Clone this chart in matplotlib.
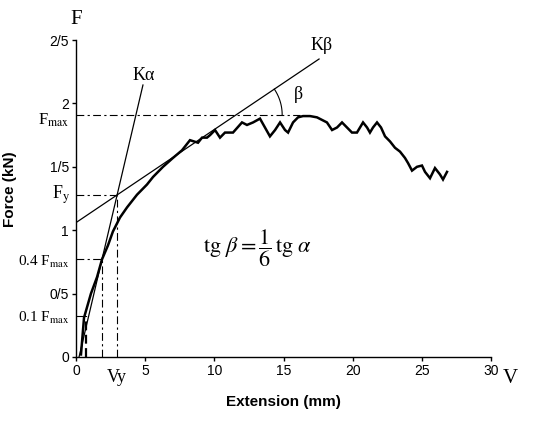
import numpy as np
import matplotlib
matplotlib.use("Agg")
import matplotlib.pyplot as plt

plt.rcParams['font.family'] = ['Liberation Sans', 'DejaVu Sans']
plt.rcParams['mathtext.fontset'] = 'stix'

# force-extension record
extension = [0.36, 0.58, 1.08, 1.52, 1.88, 2.31, 2.67, 3.18, 3.69, 4.41,
             5.13, 5.57, 6.29, 7.01, 7.66, 8.24, 8.82, 9.11, 9.47, 9.69,
             10.05, 10.41, 10.77, 11.35, 12.00, 12.36, 12.80, 13.30, 13.66, 14.02,
             14.39, 14.75, 15.11, 15.33, 15.69, 16.05, 16.41, 16.92, 17.42, 17.78,
             18.14, 18.51, 18.87, 19.23, 19.59, 19.95, 20.31, 20.75, 21.04, 21.25,
             21.47, 21.76, 22.05, 22.34, 22.70, 23.06, 23.42, 23.78, 24.00, 24.29,
             24.65, 25.01, 25.23, 25.59, 25.95, 26.31, 26.53, 26.82]
force = [0.02, 0.31, 0.50, 0.63, 0.77, 0.88, 0.99, 1.10, 1.18, 1.28,
         1.36, 1.42, 1.50, 1.57, 1.63, 1.71, 1.69, 1.73, 1.73, 1.75,
         1.79, 1.73, 1.77, 1.77, 1.85, 1.83, 1.85, 1.88, 1.81, 1.74,
         1.79, 1.85, 1.79, 1.77, 1.85, 1.89, 1.90, 1.90, 1.89, 1.87,
         1.85, 1.79, 1.81, 1.85, 1.81, 1.77, 1.77, 1.85, 1.81, 1.77,
         1.81, 1.85, 1.81, 1.74, 1.70, 1.65, 1.62, 1.57, 1.53, 1.47,
         1.50, 1.51, 1.46, 1.41, 1.49, 1.44, 1.40, 1.46]

# characteristic levels
f_max = 1.91
f_y = 1.28
f_04 = 0.77
f_01 = 0.32
x_01 = 0.72
x_04 = 1.88
v_y = 2.96
f_max_end = 16.2

# tangent lines
k_alpha_x = [0.22, 4.84]
k_alpha_y = [0.0, 2.145]
k_beta_x = [0.07, 17.57]
k_beta_y = [1.065, 2.35]

y_ticks = [0, 0.5, 1, 1.5, 2, 2.5]
y_tick_labels = ['0', '0/5', '1', '1/5', '2', '2/5']
x_ticks = [0, 5, 10, 15, 20, 25, 30]

fig = plt.figure(figsize=(5.38, 4.32), dpi=100)
ax = fig.add_axes([76 / 538, 75 / 432, 415 / 538, 317 / 432])
ax.set_xlim(0, 30)
ax.set_ylim(0, 2.5)

for side in ['top', 'right']:
    ax.spines[side].set_visible(False)
for side in ['left', 'bottom']:
    ax.spines[side].set_linewidth(1.0)

ax.set_xticks(x_ticks)
ax.set_yticks(y_ticks)
ax.set_yticklabels(y_tick_labels)
ax.tick_params(direction='out', length=3, width=1, labelsize=10, pad=2)

ax.set_xlabel('Extension (mm)', fontsize=11, fontweight='bold', labelpad=12)
ax.set_ylabel('Force (kN)', fontsize=11, fontweight='bold')
ax.yaxis.set_label_coords(-0.142, 0.53)

# curve
ax.plot(extension, force, color='black', lw=1.8, solid_joinstyle='miter')

# tangents
ax.plot(k_alpha_x, k_alpha_y, color='black', lw=0.9)
ax.plot(k_beta_x, k_beta_y, color='black', lw=0.9)

dashdot = (0, (7, 3, 2, 3))
ax.plot([0, f_max_end], [f_max, f_max], color='black', lw=0.8, ls=dashdot)
ax.plot([0, v_y], [f_y, f_y], color='black', lw=0.8, ls=dashdot)
ax.plot([0, x_04], [f_04, f_04], color='black', lw=0.8, ls=dashdot)
ax.plot([0, x_01], [f_01, f_01], color='black', lw=0.8, ls=dashdot)
ax.plot([v_y, v_y], [0, f_y], color='black', lw=0.8, ls=dashdot)
ax.plot([x_04, x_04], [0, f_04], color='black', lw=0.8, ls=dashdot)
ax.plot([x_01, x_01], [0, f_01], color='black', lw=1.6, ls=(0, (4, 2)))

# angle arc beta at the crossing of K-beta and F_max
slope = (k_beta_y[1] - k_beta_y[0]) / (k_beta_x[1] - k_beta_x[0])
xc = k_beta_x[0] + (f_max - k_beta_y[0]) / slope
sx = ax.transData.transform((1, 0))[0] - ax.transData.transform((0, 0))[0]
sy = ax.transData.transform((0, 1))[1] - ax.transData.transform((0, 0))[1]
ang = np.arctan2((k_beta_y[1] - k_beta_y[0]) * sy, (k_beta_x[1] - k_beta_x[0]) * sx)
t = np.linspace(0, ang, 40)
r = 46
ax.plot(xc + r / sx * np.cos(t), f_max + r / sy * np.sin(t), color='black', lw=0.8)

serif = ['Liberation Serif', 'DejaVu Serif']
ax.text(16.05, 2.07, 'β', family=serif, fontsize=13, ha='center', va='center')
ax.text(4.9, 2.22, 'Kα', family=serif, fontsize=13, ha='center', va='center')
ax.text(17.78, 2.46, 'Kβ', family=serif, fontsize=13, ha='center', va='center')
ax.text(13.15, 0.86, r'$\mathrm{tg}\ \beta = \dfrac{1}{6}\,\mathrm{tg}\ \alpha$',
        fontsize=16, ha='center', va='center')

ax.text(0.0, 2.66, 'F', family=serif, fontsize=15, ha='center', va='center', clip_on=False)
ax.text(31.4, -0.17, 'V', family=serif, fontsize=15, ha='center', va='center', clip_on=False)

ax.text(-0.45, f_max - 0.04, r'F$_{\mathrm{max}}$', family=serif, fontsize=12,
        ha='right', va='center', clip_on=False)
ax.text(-0.45, f_y, r'F$_{\mathrm{y}}$', family=serif, fontsize=13,
        ha='right', va='center', clip_on=False)
ax.text(-0.45, f_04 - 0.02, r'0.4 F$_{\mathrm{max}}$', family=serif, fontsize=11,
        ha='right', va='center', clip_on=False)
ax.text(-0.45, f_01 - 0.01, r'0.1 F$_{\mathrm{max}}$', family=serif, fontsize=11,
        ha='right', va='center', clip_on=False)
ax.text(v_y, -0.16, 'Vy', family=serif, fontsize=13, ha='center', va='center', clip_on=False)

fig.savefig('out.png', dpi=100)
